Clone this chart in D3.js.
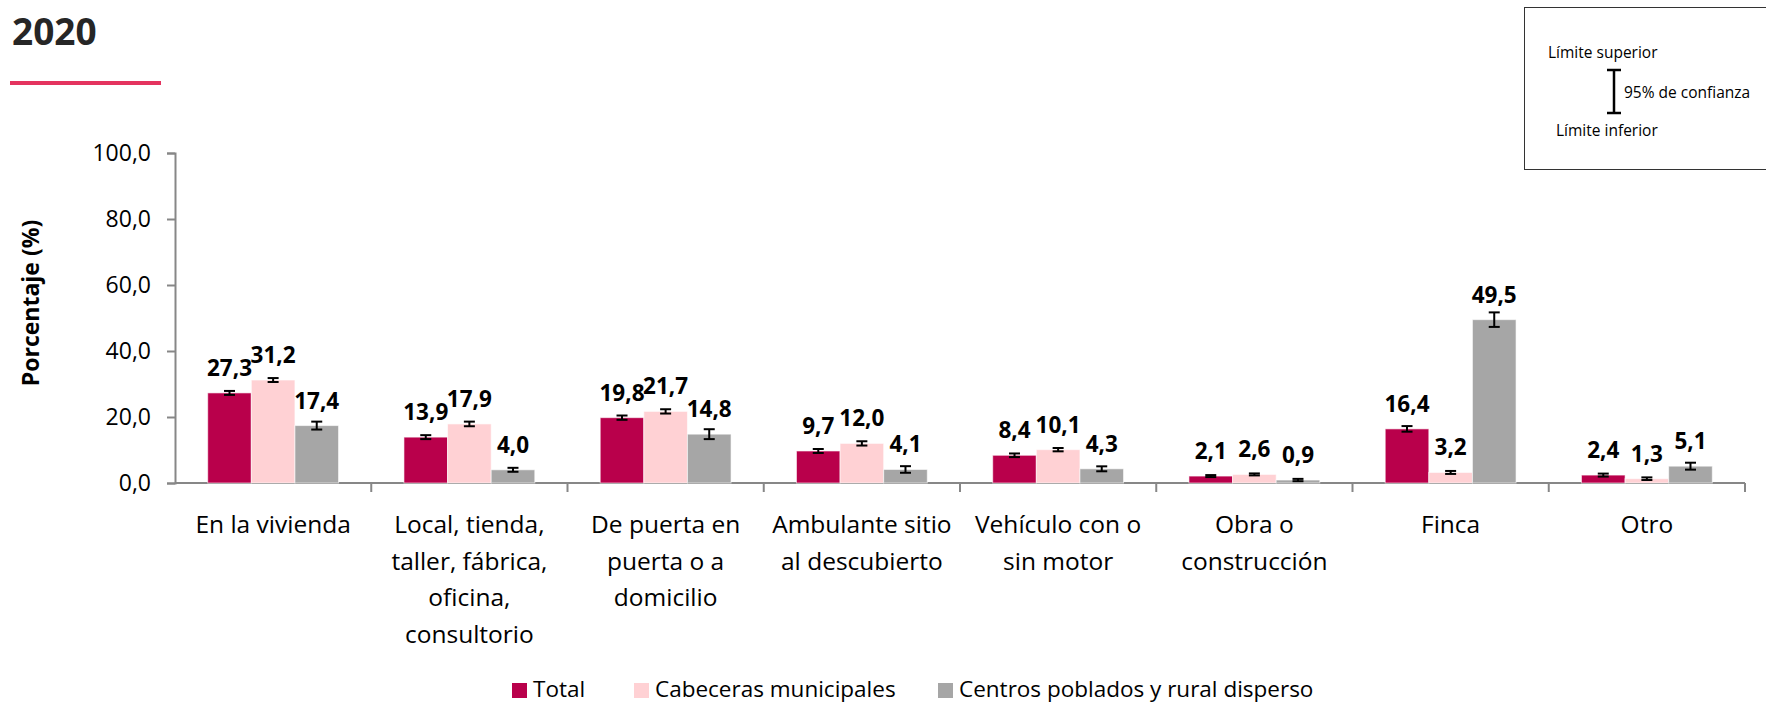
<!DOCTYPE html>
<html>
<head>
<meta charset="utf-8">
<script src="https://cdn.jsdelivr.net/npm/d3@7/dist/d3.min.js"></script>
<style>
  html, body { margin: 0; padding: 0; background: #fff; }
  svg { display: block; }
  text { font-family: "Open Sans", "Noto Sans", sans-serif; }
</style>
</head>
<body>
<svg id="chart" width="1766" height="706"></svg>
<script>
// ---- data ----
const categories = [
  "En la vivienda",
  "Local, tienda, taller, fábrica, oficina, consultorio",
  "De puerta en puerta o a domicilio",
  "Ambulante sitio al descubierto",
  "Vehículo con o sin motor",
  "Obra o construcción",
  "Finca",
  "Otro"
];
const categoryLines = [
  ["En la vivienda"],
  ["Local, tienda,", "taller, fábrica,", "oficina,", "consultorio"],
  ["De puerta en", "puerta o a", "domicilio"],
  ["Ambulante sitio", "al descubierto"],
  ["Vehículo con o", "sin motor"],
  ["Obra o", "construcción"],
  ["Finca"],
  ["Otro"]
];
const seriesNames = ["Total", "Cabeceras municipales", "Centros poblados y rural disperso"];
const totalValues     = [27.3, 13.9, 19.8, 9.7, 8.4, 2.1, 16.4, 2.4];
const cabecerasValues = [31.2, 17.9, 21.7, 12.0, 10.1, 2.6, 3.2, 1.3];
const centrosValues   = [17.4, 4.0, 14.8, 4.1, 4.3, 0.9, 49.5, 5.1];
// 95% confidence half-widths (estimated)
const totalErr     = [0.6, 0.6, 0.65, 0.6, 0.55, 0.3, 0.85, 0.45];
const cabecerasErr = [0.6, 0.7, 0.65, 0.65, 0.5, 0.3, 0.45, 0.4];
const centrosErr   = [1.2, 0.6, 1.5, 1.0, 0.75, 0.35, 2.2, 1.05];
const yTicks = [0, 20, 40, 60, 80, 100];
const colors = ["#B9004B", "#FFD1D4", "#A6A6A6"];

const seriesValues = [totalValues, cabecerasValues, centrosValues];
const seriesErrors = [totalErr, cabecerasErr, centrosErr];

// ---- layout ----
const svg = d3.select("#chart");
const plotLeft = 175, plotRight = 1745, plotTop = 153, plotBottom = 483;

const x = d3.scaleBand().domain(categories).range([plotLeft, plotRight]).padding(0);
const bw = x.bandwidth();
const xs = d3.scaleBand().domain(seriesNames).range([bw / 6, bw * 5 / 6]).padding(0);
const y = d3.scaleLinear().domain([0, 100]).range([plotBottom, plotTop]);

const fmt = v => v.toFixed(1).replace(".", ",");

// title
svg.append("text").attr("x", 12).attr("y", 45)
  .attr("font-size", 37).attr("font-weight", 700).attr("fill", "#262626").text("2020");
svg.append("rect").attr("x", 10).attr("y", 81).attr("width", 151).attr("height", 4).attr("fill", "#E4335F");

// y axis
const yAxis = svg.append("g").attr("transform", `translate(${plotLeft},0)`)
  .call(d3.axisLeft(y).tickValues(yTicks).tickSize(8).tickPadding(16).tickFormat(fmt));
yAxis.select(".domain").attr("stroke", "#878787").attr("stroke-width", 2);
yAxis.selectAll(".tick line").attr("stroke", "#878787").attr("stroke-width", 2);
yAxis.selectAll(".tick text").attr("font-size", 23).attr("fill", "#000")
  .attr("font-family", "'Open Sans', sans-serif");

svg.append("text")
  .attr("transform", "translate(39,303) rotate(-90)")
  .attr("text-anchor", "middle").attr("font-size", 23).attr("font-weight", 700).attr("fill", "#000")
  .text("Porcentaje (%)");

// x axis
const xAxis = svg.append("g").attr("transform", `translate(0,${plotBottom})`);
xAxis.append("line").attr("x1", plotLeft).attr("x2", plotRight).attr("y1", 0).attr("y2", 0)
  .attr("stroke", "#878787").attr("stroke-width", 2);
const boundaries = categories.map(c => x(c) + bw);
xAxis.selectAll("line.tk").data(boundaries).enter().append("line").attr("class", "tk")
  .attr("x1", d => d).attr("x2", d => d).attr("y1", 0).attr("y2", 9)
  .attr("stroke", "#878787").attr("stroke-width", 2);

// category labels
categories.forEach((c, i) => {
  const t = svg.append("text").attr("text-anchor", "middle").attr("font-size", 24.5).attr("fill", "#000");
  categoryLines[i].forEach((ln, j) => {
    t.append("tspan").attr("x", x(c) + bw / 2).attr("y", 533 + j * 36.5).text(ln);
  });
});

// bars
const groups = svg.append("g").selectAll("g").data(categories).enter().append("g")
  .attr("transform", d => `translate(${x(d)},0)`);

seriesNames.forEach((s, si) => {
  groups.append("rect")
    .attr("x", xs(s)).attr("width", xs.bandwidth())
    .attr("y", (d, i) => y(seriesValues[si][i]))
    .attr("height", (d, i) => plotBottom - y(seriesValues[si][i]))
    .attr("fill", colors[si])
    .attr("stroke", "#ffffff").attr("stroke-opacity", 0.6).attr("stroke-width", 1);
});

// error bars
seriesNames.forEach((s, si) => {
  const cx = xs(s) + xs.bandwidth() / 2;
  groups.each(function (d, i) {
    const g = d3.select(this);
    const v = seriesValues[si][i], e = seriesErrors[si][i];
    const y1 = y(v + e), y2 = y(v - e);
    g.append("line").attr("x1", cx).attr("x2", cx).attr("y1", y1).attr("y2", y2)
      .attr("stroke", "#000").attr("stroke-width", 2);
    [y1, y2].forEach(yy => g.append("line").attr("x1", cx - 5.5).attr("x2", cx + 5.5)
      .attr("y1", yy).attr("y2", yy).attr("stroke", "#000").attr("stroke-width", 2));
  });
});

// value labels
seriesNames.forEach((s, si) => {
  groups.append("text")
    .attr("x", xs(s) + xs.bandwidth() / 2)
    .attr("y", (d, i) => y(seriesValues[si][i]) - 17)
    .attr("text-anchor", "middle").attr("font-size", 22.5).attr("font-weight", 700).attr("fill", "#000")
    .text((d, i) => fmt(seriesValues[si][i]));
});

// legend
const legendItems = [
  { name: seriesNames[0], color: colors[0], sx: 512 },
  { name: seriesNames[1], color: colors[1], sx: 634 },
  { name: seriesNames[2], color: colors[2], sx: 938 }
];
legendItems.forEach(it => {
  svg.append("rect").attr("x", it.sx).attr("y", 683).attr("width", 15).attr("height", 15).attr("fill", it.color);
  svg.append("text").attr("x", it.sx + 21).attr("y", 697).attr("font-size", 22.5).attr("fill", "#000").text(it.name);
});

// confidence legend box
svg.append("rect").attr("x", 1524.5).attr("y", 7.5).attr("width", 245).attr("height", 162)
  .attr("fill", "none").attr("stroke", "#333").attr("stroke-width", 1);
svg.append("text").attr("x", 1548).attr("y", 58).attr("font-size", 15.5).attr("fill", "#000").text("Límite superior");
svg.append("text").attr("x", 1624).attr("y", 98).attr("font-size", 15.5).attr("fill", "#000").text("95% de confianza");
svg.append("text").attr("x", 1556).attr("y", 136).attr("font-size", 15.5).attr("fill", "#000").text("Límite inferior");
svg.append("line").attr("x1", 1614).attr("x2", 1614).attr("y1", 70).attr("y2", 113).attr("stroke", "#000").attr("stroke-width", 2.5);
svg.append("line").attr("x1", 1607).attr("x2", 1621).attr("y1", 70).attr("y2", 70).attr("stroke", "#000").attr("stroke-width", 2.5);
svg.append("line").attr("x1", 1607).attr("x2", 1621).attr("y1", 113).attr("y2", 113).attr("stroke", "#000").attr("stroke-width", 2.5);
</script>
</body>
</html>
